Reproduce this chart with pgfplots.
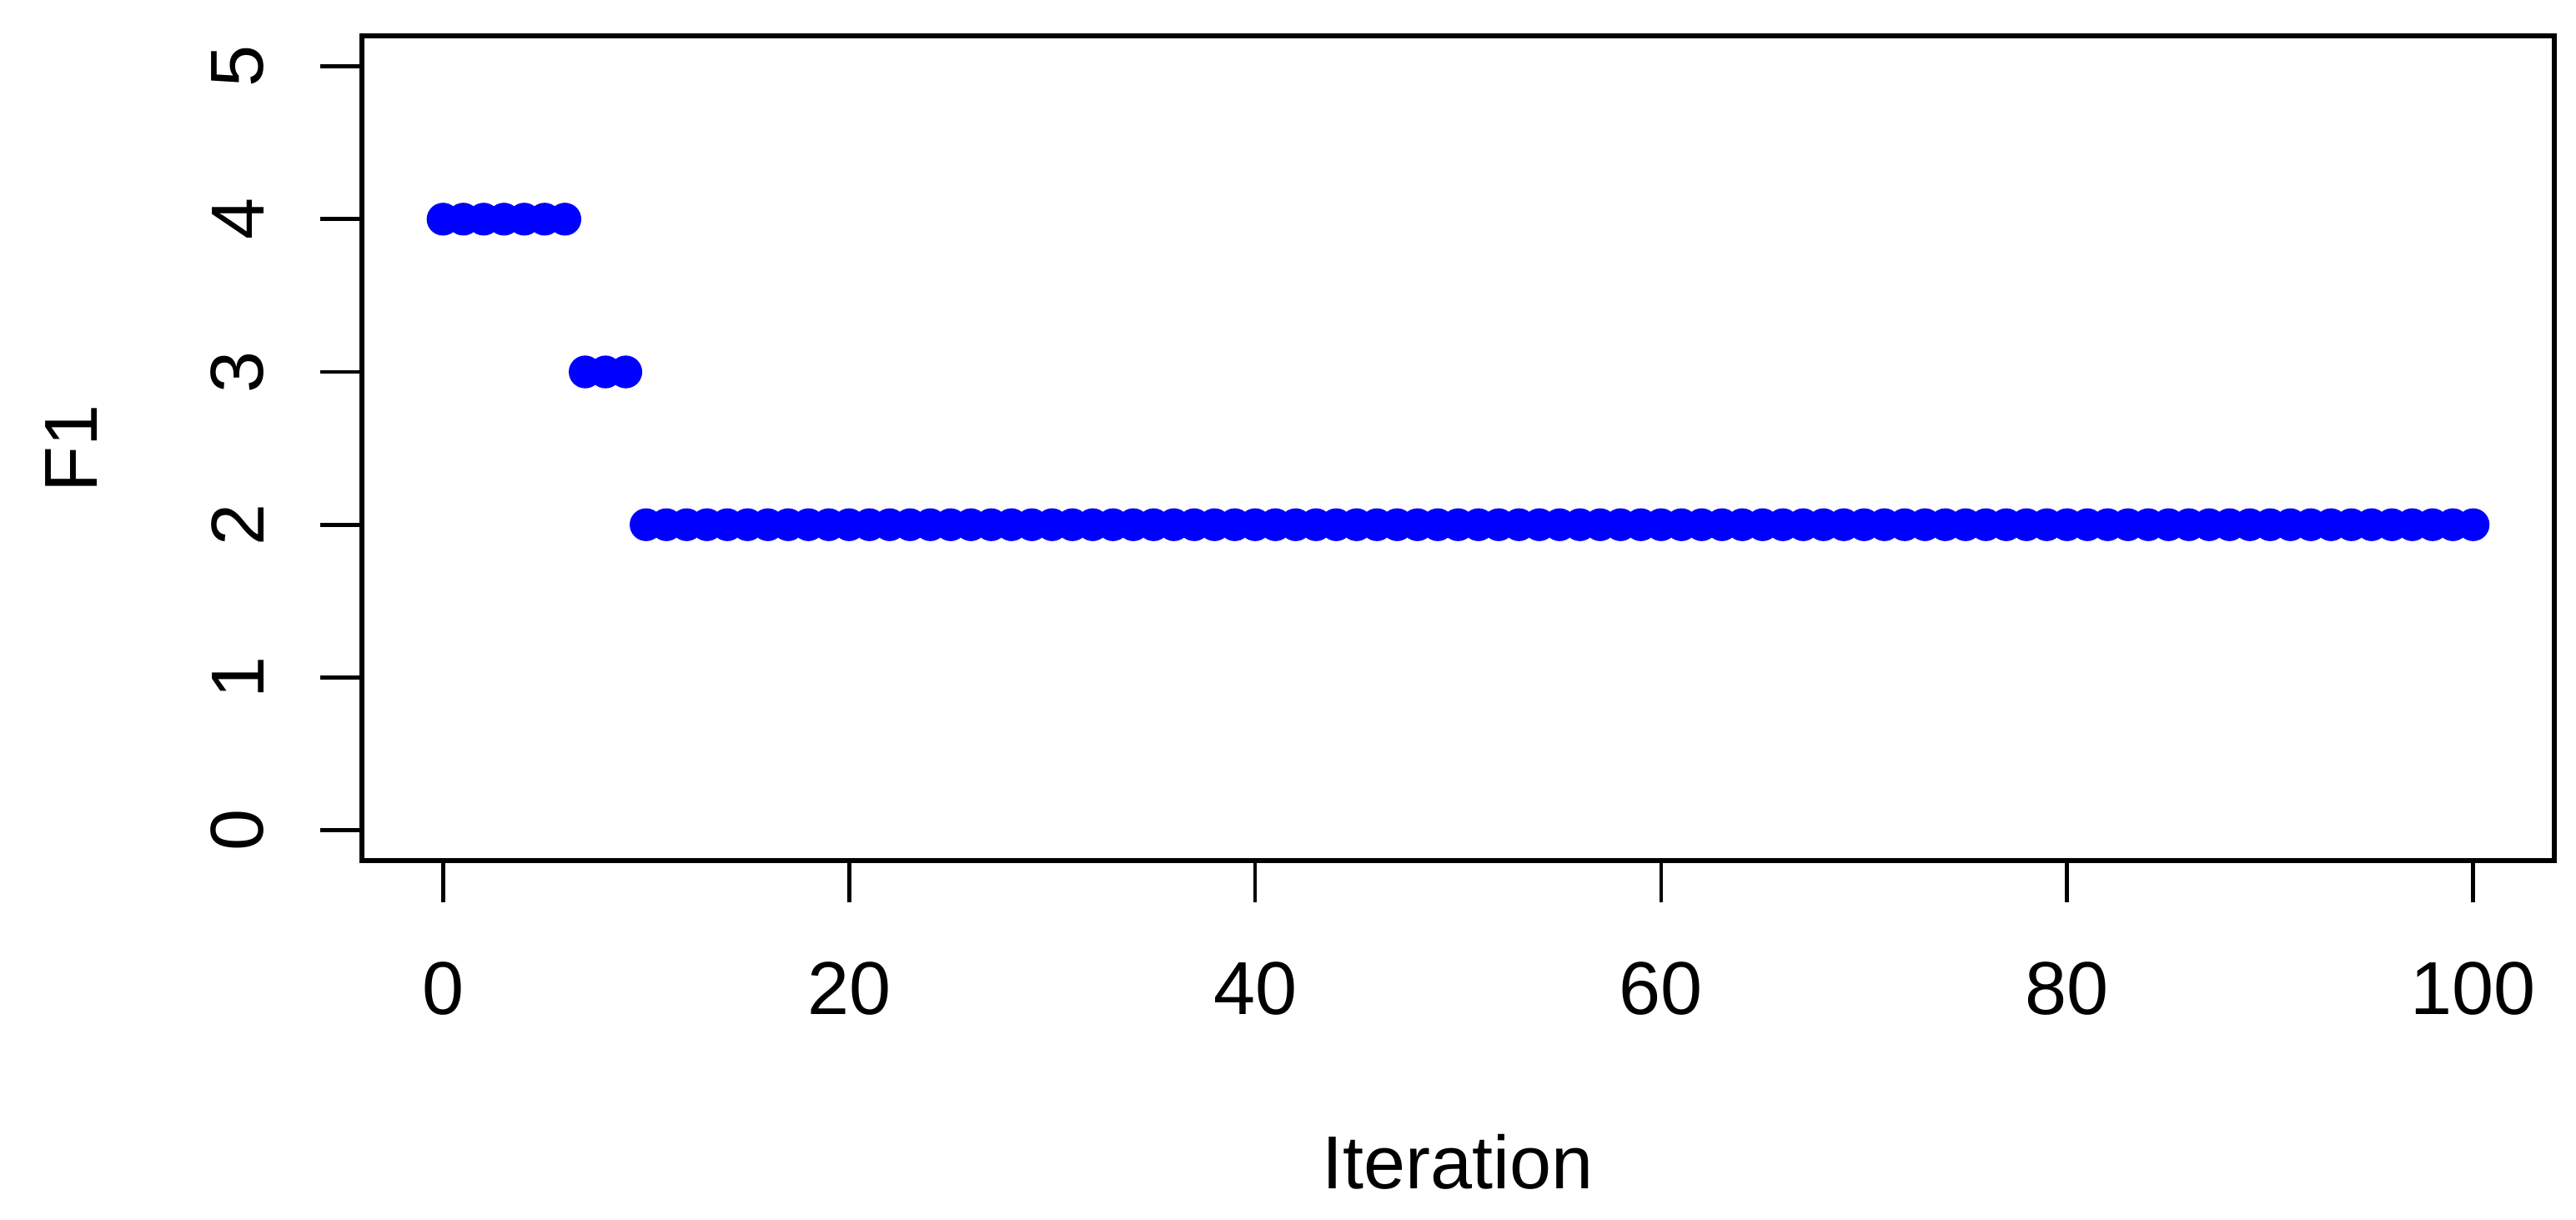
\documentclass[border=0pt]{standalone}
\usepackage{fontspec}
\setmainfont{Liberation Sans}
\usepackage{pgfplots}
\pgfplotsset{compat=1.18}

\begin{document}
\begin{tikzpicture}
\begin{axis}[name=ax, scale only axis, width=394.4pt, height=148.4pt,
  xmin=-4, xmax=104, ymin=-0.2, ymax=5.2,
  xtick={0,20,40,60,80,100}, ytick={0,1,2,3,4,5},
  xtick pos=bottom, ytick pos=left, tick align=outside,
  major tick length=7.5pt, minor tick num=0,
  axis line style={line width=0.85pt}, every tick/.style={black, line width=0.7pt},
  /pgf/number format/assume math mode=true,
  tick label style={font=\fontsize{13.5}{16}\selectfont, inner sep=0pt},
  xticklabel style={anchor=north}, xticklabel shift=10.5pt,
  yticklabel style={rotate=90, anchor=south}, yticklabel shift=9.9pt,
  label style={font=\fontsize{13.5}{16}\selectfont, inner sep=0pt},
  xlabel={Iteration}, ylabel={F1},
  xlabel style={at={([yshift=-49pt]axis description cs:0.5,0)}, anchor=north},
  ylabel style={at={([xshift=-47.4pt]axis description cs:0,0.5)}, anchor=south},
]
\addplot[only marks, mark=*, mark size=2.75pt, mark options={draw=blue, fill=blue}] coordinates {
 (0,4) (1,4) (2,4) (3,4) (4,4) (5,4) (6,4)
 (7,3) (8,3) (9,3)
 (10,2) (11,2) (12,2) (13,2) (14,2) (15,2) (16,2) (17,2) (18,2) (19,2)
 (20,2) (21,2) (22,2) (23,2) (24,2) (25,2) (26,2) (27,2) (28,2) (29,2)
 (30,2) (31,2) (32,2) (33,2) (34,2) (35,2) (36,2) (37,2) (38,2) (39,2)
 (40,2) (41,2) (42,2) (43,2) (44,2) (45,2) (46,2) (47,2) (48,2) (49,2)
 (50,2) (51,2) (52,2) (53,2) (54,2) (55,2) (56,2) (57,2) (58,2) (59,2)
 (60,2) (61,2) (62,2) (63,2) (64,2) (65,2) (66,2) (67,2) (68,2) (69,2)
 (70,2) (71,2) (72,2) (73,2) (74,2) (75,2) (76,2) (77,2) (78,2) (79,2)
 (80,2) (81,2) (82,2) (83,2) (84,2) (85,2) (86,2) (87,2) (88,2) (89,2)
 (90,2) (91,2) (92,2) (93,2) (94,2) (95,2) (96,2) (97,2) (98,2) (99,2)
 (100,2)
};
\end{axis}
\pgfresetboundingbox
\path ([xshift=-65.1pt,yshift=-64.5pt]ax.south west) rectangle ([xshift=3.9pt,yshift=6.45pt]ax.north east);
\end{tikzpicture}
\end{document}
